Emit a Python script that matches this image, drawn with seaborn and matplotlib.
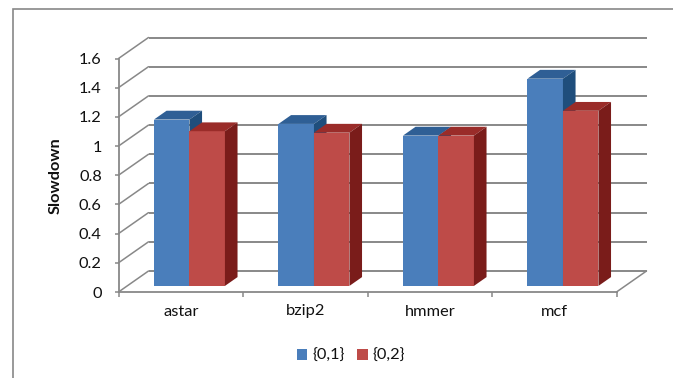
import matplotlib
matplotlib.use("Agg")
import matplotlib.pyplot as plt
from matplotlib.patches import Polygon, Rectangle
import pandas as pd
import seaborn as sns

# ---- data -------------------------------------------------------------
benchmarks = ["astar", "bzip2", "hmmer", "mcf"]
series_names = ["{0,1}", "{0,2}"]
slowdown_01 = [1.14, 1.11, 1.03, 1.42]
slowdown_02 = [1.06, 1.05, 1.03, 1.20]
y_ticks = [0, 0.2, 0.4, 0.6, 0.8, 1.0, 1.2, 1.4, 1.6]
y_tick_labels = ["0", "0.2", "0.4", "0.6", "0.8", "1", "1.2", "1.4", "1.6"]

df = pd.DataFrame({
    "benchmark": benchmarks * 2,
    "config": [series_names[0]] * len(benchmarks) + [series_names[1]] * len(benchmarks),
    "slowdown": slowdown_01 + slowdown_02,
})

# ---- style ------------------------------------------------------------
front_colors = ["#4A7EBB", "#BE4B48"]
top_colors = ["#2F5F95", "#9A2C29"]
side_colors = ["#1F4E7C", "#7A1C1A"]
grid_color = "#888888"
text_color = "#111111"
font_size = 11.8

sns.set_theme(style="white")
plt.rcParams["font.family"] = ["Lato", "DejaVu Sans"]

W, H, DPI = 673, 378, 100
fig = plt.figure(figsize=(W / DPI, H / DPI), dpi=DPI)
fig.patch.set_facecolor("white")

# the axes is the front plane of the pseudo-3D box (pixel layout)
ax_left, ax_right = 118.5, 616.5
ax_top, ax_bottom = 58.5, 292.0
ax = fig.add_axes([ax_left / W, 1 - ax_bottom / H,
                   (ax_right - ax_left) / W, (ax_bottom - ax_top) / H])
ax.set_facecolor("none")

sns.barplot(data=df, x="benchmark", y="slowdown", hue="config",
            palette=front_colors, saturation=1, width=0.57,
            edgecolor="none", linewidth=0, ax=ax)

ax.set_xlim(-0.5, len(benchmarks) - 0.5)
ax.set_ylim(y_ticks[0], y_ticks[-1])

# depth of the box (pixels, screen y up) converted to data units
depth_px = (30.0, 21.0)
p0 = ax.transData.transform((0, 0))
p1 = ax.transData.transform((1, 1))
sx, sy = p1[0] - p0[0], p1[1] - p0[1]
Dx, Dy = depth_px[0] / sx, depth_px[1] / sy
bar_front, bar_back = 0.29, 0.71
x_lo, x_hi = ax.get_xlim()

# back wall gridlines and the diagonal edges of the side wall
for v in y_ticks:
    ax.plot([x_lo + Dx, x_hi + Dx], [v + Dy, v + Dy], color=grid_color,
            lw=1.4, clip_on=False, zorder=0.5, solid_capstyle="butt")
    ax.plot([x_lo, x_lo + Dx], [v, v + Dy], color=grid_color,
            lw=1.1, clip_on=False, zorder=0.5)
# right edge of the floor
ax.plot([x_hi, x_hi + Dx], [0, Dy], color=grid_color, lw=1.1,
        clip_on=False, zorder=0.5)

# extrude each bar: front face shifted into the box, plus top and side faces
fx, fy = bar_front * Dx, bar_front * Dy
bdx, bdy = (bar_back - bar_front) * Dx, (bar_back - bar_front) * Dy
for k, cont in enumerate(ax.containers):
    for rect in cont.patches:
        x0 = rect.get_x() + fx
        x1 = x0 + rect.get_width()
        y0 = rect.get_y() + fy
        y1 = y0 + rect.get_height()
        rect.set_x(x0)
        rect.set_y(y0)
        rect.set_zorder(2 + 2 * k)
        rect.set_clip_on(False)
        top = Polygon([(x0, y1), (x1, y1), (x1 + bdx, y1 + bdy), (x0 + bdx, y1 + bdy)],
                      closed=True, facecolor=top_colors[k], edgecolor="none",
                      zorder=2.5 + 2 * k, clip_on=False)
        side = Polygon([(x1, y0), (x1, y1), (x1 + bdx, y1 + bdy), (x1 + bdx, y0 + bdy)],
                       closed=True, facecolor=side_colors[k], edgecolor="none",
                       zorder=2.5 + 2 * k, clip_on=False)
        ax.add_patch(top)
        ax.add_patch(side)

# axes lines
for name, spine in ax.spines.items():
    if name in ("left", "bottom"):
        spine.set_color(grid_color)
        spine.set_linewidth(1.3)
        spine.set_zorder(0.6)
    else:
        spine.set_visible(False)

ax.set_yticks(y_ticks)
ax.set_yticklabels(y_tick_labels)
ax.set_xticks(range(len(benchmarks)))
ax.set_xticklabels(benchmarks)
ax.set_xticks([i - 0.5 for i in range(len(benchmarks) + 1)], minor=True)
ax.tick_params(axis="y", which="major", direction="out", length=3, width=1.1,
               color=grid_color, pad=9, labelsize=font_size, labelcolor=text_color,
               left=True)
ax.tick_params(axis="x", which="major", length=0, pad=9,
               labelsize=font_size, labelcolor=text_color, bottom=True)
ax.tick_params(axis="x", which="minor", direction="out", length=3.5, width=1.1,
               color=grid_color, bottom=True)
ax.grid(False)

ax.set_xlabel("")
ax.set_ylabel("Slowdown", fontsize=font_size, fontweight="bold", color=text_color)
ax.yaxis.set_label_coords(-0.113, 0.5)

# legend below the plot
handles, labels = ax.get_legend_handles_labels()
if ax.get_legend() is not None:
    ax.get_legend().remove()
fig.legend(handles, labels, loc="center", bbox_to_anchor=(351 / W, 1 - 356 / H),
           ncol=2, frameon=False, fontsize=font_size, handlelength=0.62,
           handleheight=0.62, handletextpad=0.3, columnspacing=0.8,
           labelcolor=text_color)

# chart area border
fig.add_artist(Rectangle((13 / W, -0.1), 2.0, 1.1 - 9 / H, transform=fig.transFigure,
                         fill=False, edgecolor=grid_color, linewidth=1.2))

fig.savefig("out.png", dpi=DPI, facecolor="white")
